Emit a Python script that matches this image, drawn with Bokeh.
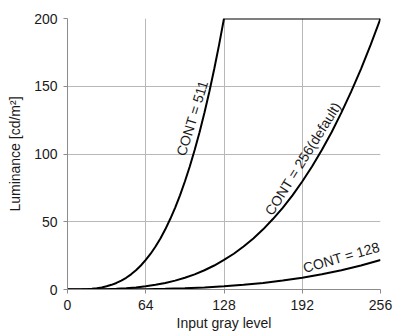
from bokeh.plotting import figure
from bokeh.models import Range1d, FixedTicker, ColumnDataSource
from bokeh.core.properties import value
from bokeh.embed import file_html
from bokeh.resources import INLINE
import math

# Data
x_256 = [0, 8, 16, 24, 32, 40, 48, 56, 64, 72, 80, 88, 96, 104, 112, 120, 128,
         136, 144, 152, 160, 168, 176, 184, 192, 200, 208, 216, 224, 232, 240, 248, 256]
lum_256 = [0, 0.0, 0.03, 0.10, 0.26, 0.53, 0.94, 1.54, 2.37, 3.45, 4.83, 6.56, 8.66,
           11.2, 14.2, 17.7, 21.8, 26.4, 31.7, 37.7, 44.4, 52.0, 60.3, 69.5, 79.7,
           90.8, 102.9, 116.1, 130.5, 146.0, 162.7, 180.7, 200]

x_511 = [0, 4, 8, 12, 16, 20, 24, 28, 32, 36, 40, 44, 48, 52, 56, 60, 64,
         68, 72, 76, 80, 84, 88, 92, 96, 100, 104, 108, 112, 116, 120, 124, 128, 256]
lum_511 = [0, 0.0, 0.03, 0.10, 0.26, 0.53, 0.94, 1.54, 2.37, 3.45, 4.83, 6.56, 8.66,
           11.2, 14.2, 17.7, 21.8, 26.4, 31.7, 37.7, 44.4, 52.0, 60.3, 69.5, 79.7,
           90.8, 102.9, 116.1, 130.5, 146.0, 162.7, 180.7, 200, 200]

x_128 = [0, 16, 32, 48, 64, 80, 96, 112, 128, 144, 160, 176, 192, 208, 224, 240, 256]
lum_128 = [0, 0.0, 0.03, 0.10, 0.26, 0.53, 0.94, 1.54, 2.37, 3.45, 4.83, 6.56, 8.66,
           11.2, 14.2, 17.7, 21.8]

x_ticks = [0, 64, 128, 192, 256]
y_ticks = [0, 50, 100, 150, 200]

labels = ["CONT = 511", "CONT = 256(default)", "CONT = 128"]
label_x = [102.0, 192.5, 224.0]
label_y = [126.5, 96.6, 23.8]
label_angle_deg = [73, 58, 16]

FONT = "Liberation Sans"

p = figure(width=393, height=333, output_backend="svg", toolbar_location=None,
           x_range=Range1d(0, 256), y_range=Range1d(0, 200),
           min_border_left=67, min_border_right=13, min_border_top=18,
           min_border_bottom=44)
p.outline_line_color = None
p.background_fill_color = "white"

for ax, ticks in ((p.xaxis, x_ticks), (p.yaxis, y_ticks)):
    ax.ticker = FixedTicker(ticks=ticks)
    ax.axis_line_color = "#8c8c8c"
    ax.axis_line_width = 1
    ax.major_tick_line_color = "#8c8c8c"
    ax.major_tick_out = 4
    ax.major_tick_in = 0
    ax.minor_tick_line_color = None
    ax.major_label_text_font = FONT
    ax.major_label_text_font_size = "14px"
    ax.major_label_text_color = "#1a1a1a"
    ax.major_label_standoff = 6
    ax.axis_label_text_font = FONT
    ax.axis_label_text_font_size = "14px"
    ax.axis_label_text_font_style = "normal"
    ax.axis_label_text_color = "#1a1a1a"

p.xaxis.axis_label = "Input gray level"
p.yaxis.axis_label = "Luminance [cd/m²]"
p.xaxis.axis_label_standoff = 2
p.yaxis.axis_label_standoff = 8

p.grid.grid_line_color = "#b8b8b8"
p.grid.grid_line_width = 1
p.xgrid.ticker = FixedTicker(ticks=x_ticks)
p.ygrid.ticker = FixedTicker(ticks=y_ticks)

p.line(x_511, lum_511, line_color="black", line_width=2)
p.line(x_256, lum_256, line_color="black", line_width=2)
p.line(x_128, lum_128, line_color="black", line_width=2)

src = ColumnDataSource(dict(x=label_x, y=label_y, t=labels,
                            a=[math.radians(d) for d in label_angle_deg]))
p.text(x="x", y="y", text="t", angle="a", source=src,
       text_font=value(FONT), text_font_size="14px", text_color="#1a1a1a",
       text_align="center", text_baseline="middle")

open("out.html", "w").write(file_html(p, INLINE))
